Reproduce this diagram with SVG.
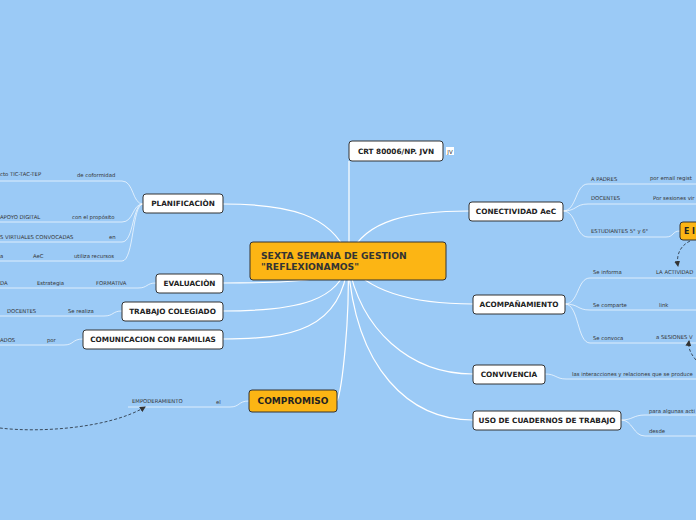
<svg xmlns="http://www.w3.org/2000/svg" width="696" height="520" viewBox="0 0 696 520">
<style>
.bg{fill:#9bcaf6}
.n{fill:#fff;stroke:#333;stroke-width:1}
.o{fill:#fcb514;stroke:#333;stroke-width:1}
.t{font-family:"DejaVu Sans",Verdana,sans-serif;font-weight:bold;font-size:7.3px;fill:#222;text-anchor:middle}
.tc{font-family:"DejaVu Sans",Verdana,sans-serif;font-weight:bold;font-size:9.2px;fill:#333}
.s{font-family:"DejaVu Sans",Verdana,sans-serif;font-size:5.3px;fill:#333}
.c{fill:none;stroke:#fff;stroke-width:1.2}
.b{fill:none;stroke:#fff;stroke-width:0.9;stroke-opacity:0.75}
.d{fill:none;stroke:#3a4a5c;stroke-width:1;stroke-dasharray:3,2}
</style>
<defs>
<marker id="ah" viewBox="0 0 6 6" refX="5" refY="3" markerWidth="6" markerHeight="6" orient="auto"><path d="M0,0 L6,3 L0,6 z" fill="#333"/></marker>
</defs>
<rect class="bg" x="0" y="0" width="696" height="520"/>
<g id="connectors">
<path class="c" d="M349,255 L349,161"/>
<path class="c" d="M348,255 C330,215 290,204 223,204"/>
<path class="c" d="M348,262 C340,280 300,283 223,283"/>
<path class="c" d="M348,262 C340,300 300,311 223,311"/>
<path class="c" d="M348,262 C342,330 290,339 223,339"/>
<path class="c" d="M348,262 C350,320 342,390 337,401"/>
<path class="c" d="M350,255 C365,220 410,211 469,211"/>
<path class="c" d="M348,262 C365,290 410,304 473,304"/>
<path class="c" d="M348,262 C360,330 410,374 473,374"/>
<path class="c" d="M348,262 C355,370 410,420 473,420"/>
<path class="b" d="M0,181 L122,181 C134,181 132,204 143,204"/>
<path class="b" d="M0,222 L122,222 C134,222 132,204 143,204"/>
<path class="b" d="M0,242 L122,242 C134,242 132,204 143,204"/>
<path class="b" d="M0,261 L122,261 C134,261 132,204 143,204"/>
<path class="b" d="M0,288 L138,288 C148,288 146,283 156,283"/>
<path class="b" d="M0,316 L104,316 C114,316 112,311 122,311"/>
<path class="b" d="M0,345 L64,345 C74,345 72,339 83,339"/>
<path class="b" d="M128,407 L230,407 C240,407 238,401 249,401"/>
<path class="b" d="M563,211 C577,211 575,184 588,184 L696,184"/>
<path class="b" d="M563,211 C577,211 575,204 588,204 L696,204"/>
<path class="b" d="M563,211 C577,211 575,237 588,237 L666,237 C674,237 672,231 680,231"/>
<path class="b" d="M565,304 C579,304 577,278 590,278 L696,278"/>
<path class="b" d="M565,304 C579,304 577,310 590,310 L696,310"/>
<path class="b" d="M565,304 C579,304 577,343 590,343 L696,343"/>
<path class="b" d="M545,374 C556,374 556,379 566,379 L696,379"/>
<path class="b" d="M621,420 C633,420 633,415 645,415 L696,415"/>
<path class="b" d="M621,420 C633,420 633,436 645,436 L696,436"/>
<path class="d" d="M0,428 C40,433 110,428 145,407" marker-end="url(#ah)"/>
<path class="d" d="M690,241 C680,246 676,255 678,266" marker-end="url(#ah)"/>
<path class="d" d="M696,360 C691,354 688,349 689,341" marker-end="url(#ah)"/>
</g>
<g id="labels">
<text class="s" x="0" y="176">cto TIC-TAC-TEP</text>
<text class="s" x="77" y="177">de coformidad</text>
<text class="s" x="0" y="219">APOYO DIGITAL</text>
<text class="s" x="72" y="219">con el propósito</text>
<text class="s" x="0" y="239">S VIRTUALES CONVOCADAS</text>
<text class="s" x="109" y="239">en</text>
<text class="s" x="0" y="258">a</text>
<text class="s" x="33" y="258">AeC</text>
<text class="s" x="74" y="258">utiliza recursos</text>
<text class="s" x="0" y="285">DA</text>
<text class="s" x="37" y="285">Estrategia</text>
<text class="s" x="96" y="285">FORMATIVA</text>
<text class="s" x="7" y="313">DOCENTES</text>
<text class="s" x="68" y="313">Se realiza</text>
<text class="s" x="0" y="342">ADOS</text>
<text class="s" x="47" y="342">por</text>
<text class="s" x="132" y="403">EMPODERAMIENTO</text>
<text class="s" x="216" y="404">el</text>
<text class="s" x="591" y="181">A PADRES</text>
<text class="s" x="650" y="180">por  email regist</text>
<text class="s" x="591" y="200">DOCENTES</text>
<text class="s" x="653" y="200">Por sesiones vir</text>
<text class="s" x="591" y="233">ESTUDIANTES  5° y 6°</text>
<text class="s" x="593" y="274">Se  informa</text>
<text class="s" x="656" y="274">LA ACTIVIDAD</text>
<text class="s" x="593" y="307">Se comparte</text>
<text class="s" x="659" y="307">link</text>
<text class="s" x="593" y="340">Se convoca</text>
<text class="s" x="656" y="339">a SESIONES  V</text>
<text class="s" x="572" y="376">las interacciones y relaciones que se produce</text>
<text class="s" x="649" y="413">para algunas acti</text>
<text class="s" x="649" y="433">desde</text>
</g>
<g id="central"><rect class="o" x="250" y="242" width="196" height="38" rx="3"/><text class="tc" x="261" y="259">SEXTA SEMANA  DE GESTION</text><text class="tc" x="261" y="270">"REFLEXIONAMOS"</text></g>
<g id="crt"><rect class="n" x="349" y="141" width="94" height="20" rx="3"/><text class="t" x="396" y="154">CRT 80006/NP. JVN</text>
<rect x="446" y="147" width="8" height="8" fill="#fff"/><text x="450" y="153.5" font-family="DejaVu Sans,sans-serif" font-size="5.5" fill="#333" text-anchor="middle">JV</text></g>
<g id="planificacion"><rect class="n" x="143" y="194" width="80" height="19" rx="3"/><text class="t" x="183" y="206">PLANIFICACIÒN</text></g>
<g id="evaluacion"><rect class="n" x="156" y="274" width="67" height="19" rx="3"/><text class="t" x="189.5" y="286">EVALUACIÒN</text></g>
<g id="trabajo"><rect class="n" x="122" y="302" width="101" height="19" rx="3"/><text class="t" x="172.5" y="314">TRABAJO COLEGIADO</text></g>
<g id="comunicacion"><rect class="n" x="83" y="330" width="140" height="19" rx="3"/><text class="t" x="153" y="342">COMUNICACION CON FAMILIAS</text></g>
<g id="compromiso"><rect class="o" x="249" y="390" width="88" height="22" rx="3"/><text class="t" x="293" y="404" style="font-size:9px">COMPROMISO</text></g>
<g id="conectividad"><rect class="n" x="469" y="202" width="94" height="19" rx="3"/><text class="t" x="516" y="214">CONECTIVIDAD AeC</text></g>
<g id="acompanamiento"><rect class="n" x="473" y="295" width="92" height="19" rx="3"/><text class="t" x="519" y="307">ACOMPAÑAMIENTO</text></g>
<g id="convivencia"><rect class="n" x="473" y="365" width="72" height="19" rx="3"/><text class="t" x="509" y="377">CONVIVENCIA</text></g>
<g id="cuadernos"><rect class="n" x="473" y="411" width="148" height="19" rx="3"/><text class="t" x="547" y="423">USO DE CUADERNOS DE TRABAJO</text></g>
<g id="e-node"><rect class="o" x="680" y="222" width="30" height="18" rx="3"/><text class="t" x="684" y="234" textLength="11" lengthAdjust="spacingAndGlyphs" style="text-anchor:start;font-size:9px">E I</text></g>
</svg>
